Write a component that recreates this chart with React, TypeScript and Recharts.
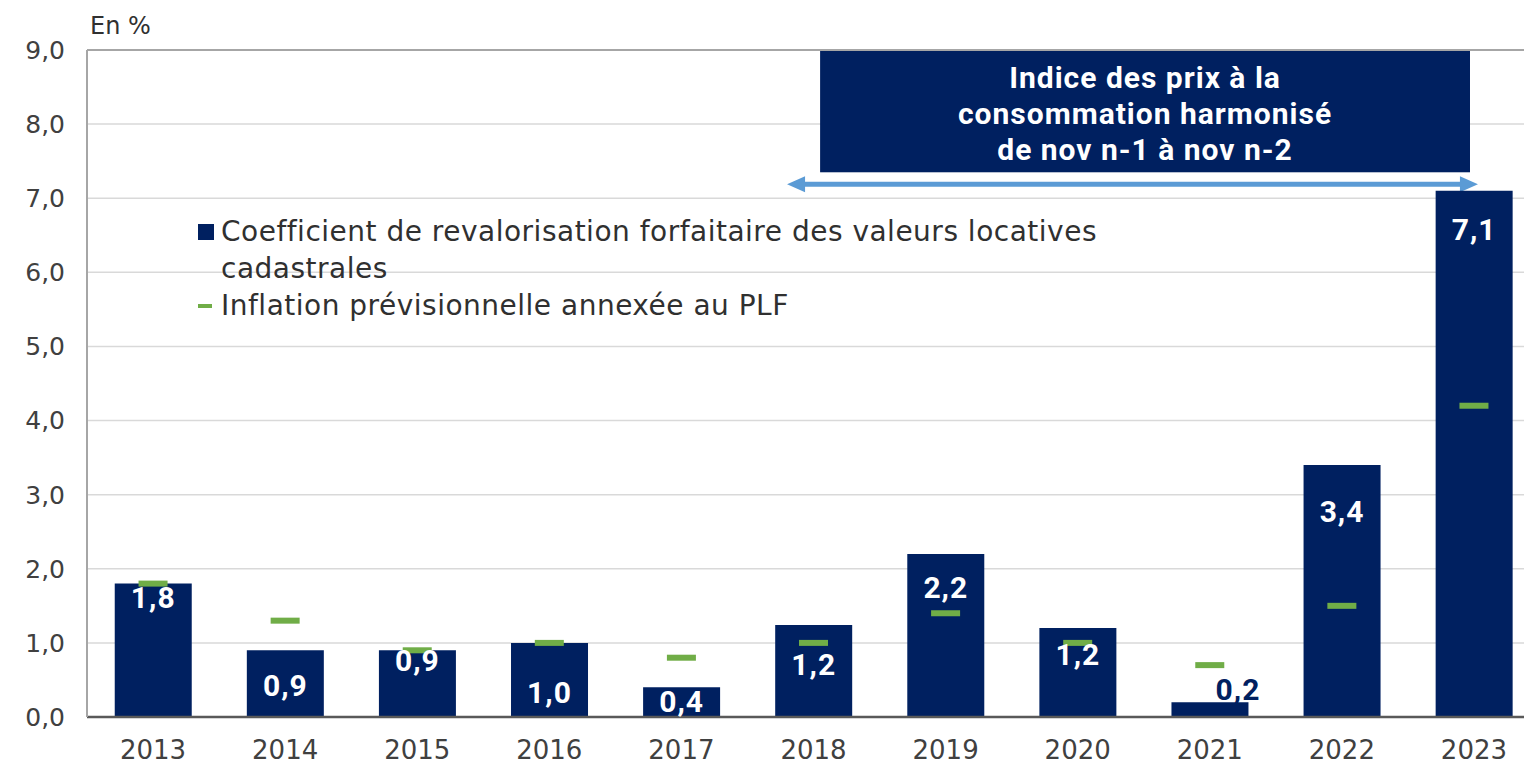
import React from 'react';
import { ComposedChart, Bar, Line, XAxis, YAxis, CartesianGrid, Legend, ReferenceArea, ReferenceLine } from 'recharts';

// values (en %)
const years = ['2013', '2014', '2015', '2016', '2017', '2018', '2019', '2020', '2021', '2022', '2023'];
const coefficient = [1.8, 0.9, 0.9, 1.0, 0.4, 1.24, 2.2, 1.2, 0.2, 3.4, 7.1];
const inflation = [1.8, 1.3, 0.9, 1.0, 0.8, 1.0, 1.4, 1.0, 0.7, 1.5, 4.2];
const yTicks = [0, 1, 2, 3, 4, 5, 6, 7, 8, 9];
const boxLines = ['Indice des prix à la', 'consommation harmonisé', 'de nov n-1 à nov n-2'];
const boxFrom = '2018';
const boxTo = '2023';

// hand placed value labels: px from bar top to label centre (negative = above the bar)
const labelShift = [14, 35, 10, 49, 14, 39, 33, 26, -13, 46, 38];

const NAVY = '#002060';
const GREEN = '#70ad47';
const ARROW = '#5b9bd5';
const FONT = '"DejaVu Sans", sans-serif';
const BOLD_FONT = 'Roboto, sans-serif';

const data = years.map((year, i) => ({ year, coefficient: coefficient[i], inflation: inflation[i] }));

const fmt = (v: number) => v.toFixed(1).replace('.', ',');

const BarValue = (props: any) => {
    const { x, y, width, value, index } = props;
    const shift = labelShift[index] ?? 20;
    const outside = shift < 0;
    return (
        <text
            x={x + width / 2 + (outside ? 28 : 0)}
            y={y + shift}
            dy="0.36em"
            textAnchor="middle"
            fill={outside ? NAVY : '#ffffff'}
            fontSize={30}
            fontWeight={700}
            letterSpacing={1}
            fontFamily={BOLD_FONT}
        >
            {fmt(value)}
        </text>
    );
};

const Dash = (props: any) => {
    const { cx, cy, index } = props;
    if (cx == null || cy == null) return <g key={`dash-${index}`} />;
    return <rect key={`dash-${index}`} x={cx - 14.5} y={cy - 3} width={29} height={6} fill={GREEN} />;
};

const RangeBox = (props: any) => {
    const { x, y, width, height } = props;
    const band = width / (years.indexOf(boxTo) - years.indexOf(boxFrom) + 1);
    const left = x + band * 0.55;
    const right = x + width - band * 0.53;
    const ay = y + height + 12;
    const ax1 = x + band * 0.3;
    const ax2 = x + width - band * 0.47;
    return (
        <g>
            <rect x={left} y={y + 1} width={right - left} height={height - 1} fill={NAVY} />
            {boxLines.map((line, i) => (
                <text
                    key={line}
                    x={(left + right) / 2}
                    y={y + 27 + i * 36}
                    dy="0.36em"
                    textAnchor="middle"
                    fill="#ffffff"
                    fontSize={30}
                    fontWeight={700}
                    letterSpacing={1}
                    fontFamily={BOLD_FONT}
                >
                    {line}
                </text>
            ))}
            <line x1={ax1 + 12} y1={ay} x2={ax2 - 12} y2={ay} stroke={ARROW} strokeWidth={5} />
            <polygon points={`${ax1},${ay} ${ax1 + 18},${ay - 8} ${ax1 + 18},${ay + 8}`} fill={ARROW} />
            <polygon points={`${ax2},${ay} ${ax2 - 18},${ay - 8} ${ax2 - 18},${ay + 8}`} fill={ARROW} />
        </g>
    );
};

const LegendBlock = (props: any) => {
    const payload: any[] = props.payload || [];
    return (
        <div style={{ fontFamily: FONT, fontSize: 28, letterSpacing: 0.5, color: '#303030', lineHeight: '37px' }}>
            {payload.map((entry) => (
                <div key={entry.value} style={{ display: 'flex', alignItems: 'flex-start' }}>
                    {entry.dataKey === 'coefficient' ? (
                        <span style={{ width: 16, height: 16, background: NAVY, marginTop: 11, marginRight: 7, flex: 'none' }} />
                    ) : (
                        <span style={{ width: 14, height: 4, background: GREEN, marginTop: 17, marginRight: 9, flex: 'none' }} />
                    )}
                    <span style={{ width: 900 }}>{entry.value}</span>
                </div>
            ))}
        </div>
    );
};

const UnitLabel = (props: any) => {
    const { viewBox } = props;
    if (!viewBox) return null;
    return (
        <text x={viewBox.x + viewBox.width + 3} y={viewBox.y - 25} dy="0.36em" fill="#303030" fontSize={24} fontFamily={FONT}>
            En %
        </text>
    );
};

export default function App() {
    return (
        <div style={{ position: 'absolute', left: 0, top: 0, width: 1524, height: 771, overflow: 'hidden', background: '#ffffff' }}>
            <ComposedChart width={1540} height={771} data={data} margin={{ top: 50, right: 0, left: 0, bottom: 0 }} barCategoryGap="21%">
                <CartesianGrid vertical={false} stroke="#d9d9d9" strokeWidth={1.5} />
                <XAxis
                    dataKey="year"
                    interval={0}
                    height={54}
                    tickSize={0}
                    tickMargin={24}
                    tickLine={false}
                    axisLine={{ stroke: '#595959', strokeWidth: 2.5 }}
                    tick={{ fill: '#404040', fontSize: 26, fontFamily: FONT }}
                />
                <YAxis
                    width={87}
                    domain={[0, 9]}
                    ticks={yTicks}
                    tickFormatter={fmt}
                    tickSize={0}
                    tickMargin={22}
                    tickLine={false}
                    axisLine={{ stroke: '#a6a6a6', strokeWidth: 2 }}
                    tick={{ fill: '#404040', fontSize: 25, fontFamily: FONT }}
                    label={{ content: UnitLabel }}
                />
                <ReferenceLine y={9} stroke="#a6a6a6" strokeWidth={2} />
                <Legend
                    layout="vertical"
                    align="center"
                    verticalAlign="middle"
                    wrapperStyle={{ left: 198, top: 213, width: 1000, height: 'auto' }}
                    content={LegendBlock}
                />
                <Bar
                    dataKey="coefficient"
                    name="Coefficient de revalorisation forfaitaire des valeurs locatives cadastrales"
                    fill={NAVY}
                    label={BarValue}
                    isAnimationActive={false}
                />
                <Line
                    dataKey="inflation"
                    name="Inflation prévisionnelle annexée au PLF"
                    stroke="none"
                    strokeWidth={0}
                    dot={Dash}
                    activeDot={false}
                    legendType="line"
                    isAnimationActive={false}
                />
                <ReferenceArea x1={boxFrom} x2={boxTo} y1={7.35} y2={9} shape={RangeBox} />
            </ComposedChart>
        </div>
    );
}
